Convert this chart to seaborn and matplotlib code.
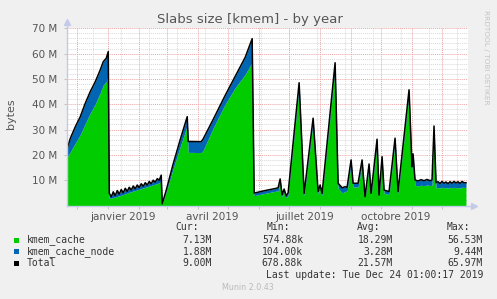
import numpy as np
import pandas as pd
import matplotlib
matplotlib.use("Agg")
import matplotlib.pyplot as plt
import matplotlib.dates as mdates
from matplotlib.patches import Rectangle
import seaborn as sns

# ---- data (values in M, days relative to 2019-01-01) ----
days = [-41, -38, -33, -28, -23, -18, -13, -8, -5, -2, 0,
        1, 3, 5, 7, 9, 11, 13, 15, 17, 19, 21, 23, 25, 27, 29, 31, 33, 35, 37, 39,
        41, 43, 45, 47, 49, 51, 53, 54,
        58, 65, 72, 79, 80, 93, 95, 105, 117, 127, 137, 144,
        146, 157, 167, 170, 172, 174, 176, 178, 180, 191, 196, 205, 210, 212, 214,
        227, 230, 234, 237, 239, 243, 245, 250, 254, 257, 261, 263, 269, 271, 274,
        276, 281, 287, 290, 301, 304, 305, 307, 310, 313, 316, 319, 322, 324, 326,
        328, 330, 332, 334, 336, 338, 340, 342, 344, 346, 348, 350, 352, 354, 356, 358]
kmem_cache = [19.3, 21.2, 24.6, 28.0, 32.4, 36.5, 40.1, 44.6, 47.6, 48.9, 51.4,
              2.9, 2.9, 3.2, 3.3, 3.6, 3.8, 4.1, 4.3, 4.6, 4.9, 5.2, 5.4, 5.7, 5.9, 6.2, 6.4, 6.7, 6.9, 7.2, 7.4,
              7.7, 7.9, 8.2, 8.4, 8.7, 8.9, 9.6, 0.57,
              5.3, 14.6, 23.2, 31.6, 21.0, 20.9, 21.8, 30.6, 40.0, 46.5, 51.8, 56.5,
              3.9, 4.8, 5.6, 5.8, 9.0, 3.4, 5.4, 3.0, 4.0, 46.5, 3.8, 32.8, 4.5, 7.0, 3.9,
              54.3, 6.8, 5.0, 5.6, 5.6, 16.3, 7.3, 7.3, 16.5, 2.8, 15.0, 3.9, 24.5, 3.3, 17.8,
              4.9, 4.3, 25.0, 4.5, 44.0, 13.8, 18.8, 7.9, 7.8, 8.0, 7.8, 8.1, 7.9, 8.0, 29.5,
              7.0, 7.1, 6.9, 7.2, 7.0, 7.1, 6.8, 7.2, 7.0, 7.2, 7.0, 7.1, 6.9, 7.2, 7.13, 7.13]
kmem_cache_node = [3.3, 5.3, 6.5, 7.1, 8.0, 8.5, 8.8, 9.0, 9.2, 9.3, 9.4,
                   2.0, 0.5, 2.2, 0.6, 2.3, 0.7, 2.2, 0.7, 2.2, 0.7, 2.0, 0.7, 2.0, 0.7, 1.9, 0.7, 1.9, 0.7, 1.8, 0.7,
                   1.8, 0.7, 1.8, 0.8, 1.9, 1.1, 2.4, 0.11,
                   0.7, 1.9, 2.8, 3.5, 4.3, 4.3, 4.5, 3.4, 3.5, 4.5, 6.7, 9.4,
                   1.0, 1.1, 1.1, 1.2, 1.5, 0.8, 1.1, 0.8, 1.0, 2.0, 1.0, 1.7, 1.0, 1.1, 0.9,
                   2.1, 2.0, 2.0, 1.8, 1.6, 1.7, 1.5, 1.5, 1.5, 0.7, 1.4, 0.9, 1.7, 0.8, 1.5,
                   1.2, 1.2, 1.6, 1.0, 1.7, 1.5, 1.6, 2.2, 1.9, 2.2, 2.0, 2.2, 1.9, 2.1, 1.9,
                   2.0, 2.3, 1.8, 2.3, 1.8, 2.2, 1.8, 2.2, 1.8, 2.3, 1.9, 2.3, 1.8, 2.3, 1.87, 1.88]

y_ticks = [10, 20, 30, 40, 50, 60, 70]
y_tick_labels = ["10 M", "20 M", "30 M", "40 M", "50 M", "60 M", "70 M"]
x_label_dates = ["2019-01-16", "2019-04-15", "2019-07-16", "2019-10-16"]
x_labels = ["janvier 2019", "avril 2019", "juillet 2019", "octobre 2019"]

legend_names = ["kmem_cache", "kmem_cache_node", "Total"]
legend_colors = ["#00CC00", "#0066B3", "#000000"]
cur_vals = ["7.13M", "1.88M", "9.00M"]
min_vals = ["574.88k", "104.00k", "678.88k"]
avg_vals = ["18.29M", "3.28M", "21.57M"]
max_vals = ["56.53M", "9.44M", "65.97M"]

base = pd.Timestamp("2019-01-01")
df = pd.DataFrame({
    "date": base + pd.to_timedelta(days, unit="D"),
    "kmem_cache": kmem_cache,
    "kmem_cache_node": kmem_cache_node,
})
df["total"] = df["kmem_cache"] + df["kmem_cache_node"]

W, H = 497, 299
fig = plt.figure(figsize=(W / 100, H / 100), dpi=100, facecolor="#F0F0F0")
L, R, T, B = 67, 468, 28.3, 205.5
ax = fig.add_axes([L / W, 1 - B / H, (R - L) / W, (B - T) / H])
ax.set_facecolor("white")

xmin = base - pd.Timedelta(days=41.3)
xmax = base + pd.Timedelta(days=360)
ax.set_xlim(xmin, xmax)
ax.set_ylim(0, 70)

# grids
minor_col = "#D9D9D9"
major_col = "#EBA5A5"
for v in np.arange(2, 70, 2):
    if v % 10 != 0:
        ax.axhline(v, color=minor_col, lw=0.7, ls=(0, (1, 1)), zorder=0)
wk = pd.date_range("2018-12-17", "2019-12-24", freq="28D")
for d in wk:
    ax.axvline(d, color=minor_col, lw=0.7, ls=(0, (1, 1)), zorder=0)
for v in y_ticks:
    ax.axhline(v, color=major_col, lw=0.7, ls=(0, (1, 1)), zorder=0.5)
months = pd.date_range("2018-12-01", "2019-12-01", freq="MS")
for d in months:
    ax.axvline(d, color=major_col, lw=0.7, ls=(0, (1, 1)), zorder=0.5)

# areas
ax.fill_between(df["date"], 0, df["kmem_cache"], color="#00CC00", lw=0, zorder=2)
ax.fill_between(df["date"], df["kmem_cache"], df["total"], color="#0066B3", lw=0, zorder=2)
sns.lineplot(data=df, x="date", y="total", color="black", lw=1.1, ax=ax, zorder=3)

# axes styling
for s in ax.spines.values():
    s.set_visible(False)
ax.set_xlabel("")
ax.set_ylabel("")
ax.set_yticks(y_ticks)
ax.set_yticklabels(y_tick_labels, fontsize=7.5, color="#555555")
ax.tick_params(axis="y", length=2, width=0.6, color="#BBBBBB", pad=5)
ax.set_xticks(months)
ax.set_xticklabels([])
ax.tick_params(axis="x", length=2, width=0.6, color="#BBBBBB", pad=1)

axis_col = "#C4CBEA"
ax.plot([0, 0], [0, 1.035], transform=ax.transAxes, color=axis_col, lw=1, clip_on=False, zorder=4)
ax.plot([0, 1.015], [0, 0], transform=ax.transAxes, color=axis_col, lw=1, clip_on=False, zorder=4)
ax.plot([0], [1.035], transform=ax.transAxes, marker="^", ms=4, color=axis_col, clip_on=False, zorder=4)
ax.plot([1.015], [0], transform=ax.transAxes, marker=">", ms=4, color=axis_col, clip_on=False, zorder=4)

def fx(x):
    return x / W

def fy(y):
    return 1 - y / H

for d, lab in zip(x_label_dates, x_labels):
    ax.text(pd.Timestamp(d), -0.035, lab, transform=ax.get_xaxis_transform(),
            ha="center", va="top", fontsize=7.5, color="#555555")

fig.text(fx(250), fy(19), "Slabs size [kmem] - by year", ha="center", va="center",
         fontsize=9.5, color="#555555")
fig.text(fx(11), fy(114), "bytes", rotation=90, ha="center", va="center",
         fontsize=8, color="#555555")
fig.text(fx(486), fy(57), "RRDTOOL / TOBI OETIKER", rotation=-90, ha="center", va="center",
         fontsize=5.3, color="#C4C4C4")

mono = "DejaVu Sans Mono"
tc = "#333333"
fs = 7
for xr, hdr in zip([199, 290, 380, 470], ["Cur:", "Min:", "Avg:", "Max:"]):
    fig.text(fx(xr), fy(227.5), hdr, ha="right", va="center", family=mono, fontsize=fs, color=tc)
rows_y = [240, 251.7, 263.3]
for i in range(3):
    y = rows_y[i]
    fig.patches.append(Rectangle((fx(14), fy(y + 2.5)), 5 / W, 5 / H, transform=fig.transFigure,
                                 facecolor=legend_colors[i], edgecolor="none"))
    fig.text(fx(27), fy(y), legend_names[i], ha="left", va="center", family=mono, fontsize=fs, color=tc)
    for xr, vals in zip([212, 303, 393, 483], [cur_vals, min_vals, avg_vals, max_vals]):
        fig.text(fx(xr), fy(y), vals[i], ha="right", va="center", family=mono, fontsize=fs, color=tc)
fig.text(fx(483), fy(275), "Last update: Tue Dec 24 01:00:17 2019", ha="right", va="center",
         family=mono, fontsize=fs, color=tc)
fig.text(fx(248), fy(288), "Munin 2.0.43", ha="center", va="center", fontsize=5.8, color="#BBBBBB")

fig.savefig("out.png", dpi=100, facecolor=fig.get_facecolor())
